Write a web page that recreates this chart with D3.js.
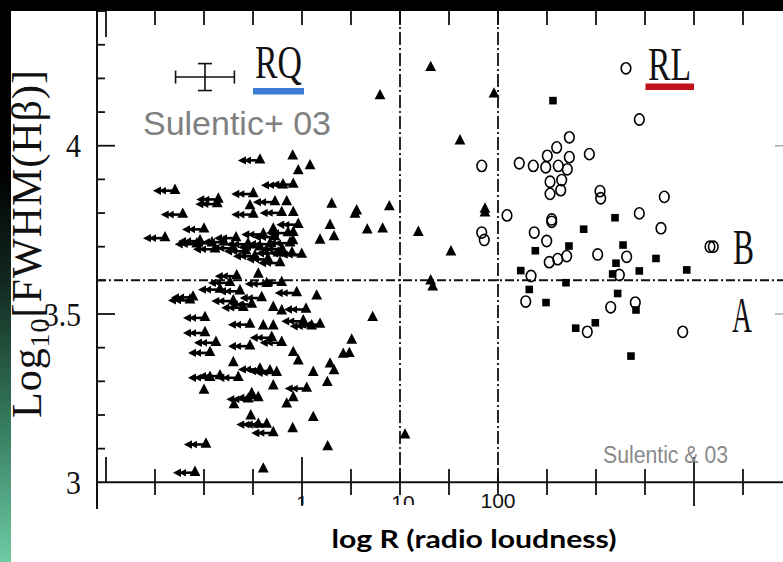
<!DOCTYPE html>
<html>
<head>
<meta charset="utf-8">
<script src="https://cdn.jsdelivr.net/npm/d3@7"></script>
<style>
  html, body { margin: 0; padding: 0; background: #fff; }
  svg { display: block; }
</style>
</head>
<body>
<svg id="chart" width="783" height="562"></svg>
<script>
// log10 R (radio loudness) vs log10 FWHM(Hbeta), Sulentic et al. 2003

// Radio-quiet sources with upper limits on R: [log R, log FWHM]
const rqUpperLimits = [
  [-0.429, 3.960], [-1.296, 3.870], [-0.854, 3.844], [-0.864, 3.830], [-0.497, 3.860],
  [-0.194, 3.886], [-0.089, 3.888], [-0.276, 3.836], [-1.217, 3.799], [-0.497, 3.799],
  [-0.207, 3.804], [-0.038, 3.769], [-1.000, 3.755], [-1.398, 3.729], [-1.074, 3.711],
  [-1.041, 3.720], [-0.918, 3.714], [-0.796, 3.717], [-0.673, 3.729], [-0.551, 3.711],
  [-0.429, 3.702], [-0.327, 3.711], [-0.204, 3.696], [-0.102, 3.684], [-0.003, 3.680],
  [-0.395, 3.740], [-0.276, 3.732], [-0.143, 3.744], [-0.480, 3.675], [-0.347, 3.666],
  [-0.224, 3.655], [-0.571, 3.690], [-0.701, 3.699], [-0.122, 3.714], [-0.245, 3.684],
  [-0.888, 3.696],
  [-0.666, 3.616], [-0.735, 3.596], [-0.837, 3.576], [-0.360, 3.593], [-0.207, 3.596],
  [-0.054, 3.566], [-1.143, 3.544], [-1.112, 3.553], [-0.633, 3.571], [-0.411, 3.551],
  [-0.701, 3.542], [-0.599, 3.522], [-0.513, 3.532], [0.041, 3.517], [-0.990, 3.492],
  [-0.531, 3.472], [0.013, 3.482], [0.099, 3.467], [0.184, 3.472], [-0.990, 3.447],
  [-0.878, 3.418], [-0.939, 3.388], [-0.531, 3.408], [-0.309, 3.433], [-0.207, 3.418],
  [-0.429, 3.339], [-0.327, 3.334], [-0.258, 3.329], [-0.939, 3.314], [-0.837, 3.319],
  [-0.650, 3.314], [0.048, 3.282], [-0.446, 3.254], [-0.548, 3.250], [-0.360, 3.175],
  [-0.293, 3.150], [-0.446, 3.175], [-0.980, 3.116], [-1.092, 3.032]
];

// Radio-quiet / intermediate sources with measured R
const rqDetected = [
  [-0.095, 3.972], [0.082, 3.943], [-0.038, 3.928], [-0.156, 3.836], [-0.531, 3.824],
  [-0.089, 3.804], [-0.293, 3.755], [-0.089, 3.745], [-0.092, 3.720], [0.303, 3.829],
  [0.558, 3.809], [0.541, 3.799], [0.891, 3.821], [0.286, 3.766], [0.666, 3.752],
  [0.823, 3.755], [0.327, 3.732], [0.184, 3.722], [1.187, 3.745], [1.520, 3.687],
  [1.313, 4.235], [0.796, 4.151], [1.959, 4.156], [1.612, 4.017], [1.867, 3.814],
  [1.867, 3.803], [1.313, 3.601], [1.334, 3.583], [-0.446, 3.621], [0.150, 3.556],
  [-0.395, 3.467], [-0.293, 3.467], [-0.293, 3.522], [-0.207, 3.512], [0.721, 3.492],
  [0.507, 3.425], [0.421, 3.383], [0.483, 3.385], [-0.089, 3.388], [-0.038, 3.363],
  [-0.701, 3.358], [0.115, 3.329], [0.286, 3.354], [0.327, 3.334], [0.258, 3.299],
  [-1.000, 3.276], [-0.293, 3.289], [-0.089, 3.254], [-0.156, 3.235], [-0.513, 3.266],
  [-0.694, 3.233], [-0.523, 3.200], [0.115, 3.195], [-0.095, 3.162], [0.262, 3.108],
  [-0.395, 3.042], [1.051, 3.143]
];

// Radio-loud, lobe-dominated sources (open circles)
const rlLobe = [
  [3.306, 4.230], [3.442, 4.078], [1.834, 3.940], [2.217, 3.948], [2.360, 3.940],
  [2.487, 3.936], [2.503, 3.970], [2.599, 3.995], [2.728, 4.025], [2.728, 3.966],
  [2.615, 3.940], [2.707, 3.930], [2.650, 3.898], [2.531, 3.893], [2.640, 3.868],
  [2.531, 3.857], [2.932, 3.975], [3.041, 3.865], [3.048, 3.844], [3.697, 3.848],
  [3.442, 3.799], [3.663, 3.755], [2.092, 3.793], [2.548, 3.781], [2.548, 3.774],
  [1.834, 3.742], [1.860, 3.720], [2.370, 3.742], [2.497, 3.717], [3.017, 3.677],
  [3.313, 3.670], [2.701, 3.672], [2.609, 3.663], [2.523, 3.654], [4.163, 3.700],
  [4.197, 3.700], [2.337, 3.613], [3.238, 3.616], [2.283, 3.537], [3.150, 3.520],
  [3.401, 3.534], [2.911, 3.447], [3.885, 3.447]
];

// Radio-loud, core-dominated sources (filled squares)
const rlCore = [
  [2.561, 4.134], [3.194, 3.786], [2.874, 3.752], [2.724, 3.702], [3.276, 3.705],
  [2.381, 3.688], [3.612, 3.665], [3.204, 3.651], [2.232, 3.629], [3.442, 3.628],
  [3.926, 3.631], [3.170, 3.619], [2.694, 3.593], [2.319, 3.573], [3.221, 3.561],
  [2.490, 3.534], [3.408, 3.512], [2.993, 3.474], [2.793, 3.458], [3.357, 3.375]
];

// Typical error: [log R, log FWHM, half-width in log R, half-height in log FWHM]
const typicalError = [-0.99, 4.204, 0.30, 0.040];

// Axis ticks and labels
const xTickValues = d3.range(-2, 4.51, 0.5);
const xMajorTicks = [0, 4];
const xTickLabels = [[0, "1"], [1, "10"], [2, "100"]];
const yTickValues = d3.range(3.1, 4.41, 0.1).map(v => +v.toFixed(1));
const yMajorTicks = [3.5, 4.0];
const yTickLabels = [[4.0, "4"], [3.5, "3.5"], [3.0, "3"]];
const boundaryFWHM = 3.6;
const boundaryR = [1, 2];

(function draw() {
  const svg = d3.select("#chart");
  const W = 783, H = 562;

  const x = d3.scaleLinear().domain([-2, 4]).range([106, 694]);
  const y = d3.scaleLinear().domain([3, 4.4]).range([482.3, 11.1]);
  const pL = 97, pR = 783, pT = 11, pB = y(3);
  const ink = "#111";

  // Page frame: dark top band and left strip fading to green
  const defs = svg.append("defs");
  const grad = defs.append("linearGradient").attr("id", "strip")
    .attr("x1", 0).attr("y1", 0).attr("x2", 0).attr("y2", 1);
  [[0, "#000"], [0.3, "#000"], [0.5, "#12281f"], [0.75, "#347a5c"], [1, "#6ecba4"]]
    .forEach(([o, c]) => grad.append("stop").attr("offset", o).attr("stop-color", c));
  defs.append("clipPath").attr("id", "labelClip")
    .append("rect").attr("x", 0).attr("y", 0).attr("width", W).attr("height", 505);

  svg.append("rect").attr("width", W).attr("height", H).attr("fill", "#fff");
  svg.append("rect").attr("x", 0).attr("y", 0).attr("width", W).attr("height", 11).attr("fill", "#000");
  svg.append("rect").attr("x", 0).attr("y", 0).attr("width", 11).attr("height", H).attr("fill", "url(#strip)");

  // Axis lines
  svg.append("line").attr("x1", pL).attr("x2", pL).attr("y1", pT).attr("y2", 509)
    .attr("stroke", ink).attr("stroke-width", 2);
  svg.append("line").attr("x1", pL).attr("x2", pR).attr("y1", pB).attr("y2", pB)
    .attr("stroke", ink).attr("stroke-width", 2);

  // x ticks, bottom and top
  const xt = svg.append("g").attr("stroke", ink).attr("stroke-width", 1.8);
  xTickValues.forEach(v => {
    const px = x(v);
    let y1 = 469, y2 = 495;
    if (v === -2) { y1 = 457; y2 = pB; }
    else if (xMajorTicks.includes(v)) { y1 = 457; y2 = 506; }
    xt.append("line").attr("x1", px).attr("x2", px).attr("y1", y1).attr("y2", y2);
    xt.append("line").attr("x1", px).attr("x2", px).attr("y1", pT).attr("y2", v === -2 ? 37 : 25);
  });

  // y ticks, left and right
  const yt = svg.append("g").attr("stroke", ink).attr("stroke-width", 1.8);
  yTickValues.forEach(v => {
    const py = y(v);
    const len = yMajorTicks.includes(v) ? 18 : 8;
    yt.append("line").attr("x1", pL).attr("x2", pL + len).attr("y1", py).attr("y2", py);
  });
  yMajorTicks.forEach(v => {
    svg.append("line").attr("x1", pR - 8).attr("x2", pR).attr("y1", y(v)).attr("y2", y(v))
      .attr("stroke", "#aaa").attr("stroke-width", 1.5);
  });

  // Tick labels
  svg.append("g").selectAll("text").data(yTickLabels).join("text")
    .attr("x", 81).attr("y", d => y(d[0]) + 11.5)
    .attr("text-anchor", "end")
    .attr("font-family", "Liberation Serif, serif").attr("font-size", 34)
    .attr("textLength", d => d[1].length === 1 ? 15 : 37)
    .attr("lengthAdjust", "spacingAndGlyphs")
    .attr("fill", ink).text(d => d[1]);

  svg.append("g").selectAll("text").data(xTickLabels).join("text")
    .attr("x", d => x(d[0]) + (d[0] === 1 ? 3 : 0)).attr("y", d => d[0] === 2 ? 508 : 510)
    .attr("text-anchor", "middle")
    .attr("clip-path", d => d[0] === 2 ? null : "url(#labelClip)")
    .attr("font-family", "Liberation Sans, Arial, sans-serif").attr("font-size", 21)
    .attr("fill", ink).text(d => d[1]);

  // Population boundaries (dash-dot)
  svg.append("line").attr("x1", pL).attr("x2", pR)
    .attr("y1", y(boundaryFWHM)).attr("y2", y(boundaryFWHM))
    .attr("stroke", ink).attr("stroke-width", 2).attr("stroke-dasharray", "9,3,2,3");
  boundaryR.forEach(v => {
    svg.append("line").attr("x1", x(v)).attr("x2", x(v)).attr("y1", pT).attr("y2", pB)
      .attr("stroke", ink).attr("stroke-width", 1.8).attr("stroke-dasharray", "13,3,2,3");
  });

  // Marks
  const tri = "M0,-6 L5.4,4.4 L-5.4,4.4 Z";
  const marks = svg.append("g").attr("fill", "#000");

  const lim = marks.append("g").selectAll("g").data(rqUpperLimits).join("g")
    .attr("transform", d => `translate(${x(d[0])},${y(d[1])})`);
  lim.append("path").attr("d", tri);
  lim.append("path").attr("d", "M-3,1.2 L-16,1.2")
    .attr("stroke", "#000").attr("stroke-width", 2.6).attr("fill", "none");
  lim.append("path").attr("d", "M-22,1.2 L-14,-3 L-14,5.4 Z");
  lim.append("path").attr("d", "M-16,1.2 L-9,-2.6 L-9,5 Z");

  marks.append("g").selectAll("path").data(rqDetected).join("path")
    .attr("transform", d => `translate(${x(d[0])},${y(d[1])})`).attr("d", tri);

  marks.append("g").selectAll("rect").data(rlCore).join("rect")
    .attr("x", d => x(d[0]) - 3.8).attr("y", d => y(d[1]) - 3.8)
    .attr("width", 7.6).attr("height", 7.6);

  marks.append("g").selectAll("ellipse").data(rlLobe).join("ellipse")
    .attr("cx", d => x(d[0])).attr("cy", d => y(d[1]))
    .attr("rx", 4.8).attr("ry", 5.6)
    .attr("fill", "none").attr("stroke", "#000").attr("stroke-width", 1.6);

  // Typical error bar
  const [ex, ey, edx, edy] = typicalError;
  const eb = svg.append("g").attr("stroke", ink).attr("stroke-width", 1.6);
  eb.append("line").attr("x1", x(ex - edx)).attr("x2", x(ex + edx)).attr("y1", y(ey)).attr("y2", y(ey));
  eb.append("line").attr("x1", x(ex)).attr("x2", x(ex)).attr("y1", y(ey + edy)).attr("y2", y(ey - edy));
  [ex - edx, ex + edx].forEach(v => eb.append("line").attr("x1", x(v)).attr("x2", x(v))
    .attr("y1", y(ey) - 6.5).attr("y2", y(ey) + 6.5));
  [ey - edy, ey + edy].forEach(v => eb.append("line").attr("x1", x(ex) - 7).attr("x2", x(ex) + 7)
    .attr("y1", y(v)).attr("y2", y(v)));

  // Population labels
  const serif = "Liberation Serif, Times New Roman, serif";
  function condensed(txt, px, py, size, len) {
    return svg.append("text").attr("x", px).attr("y", py)
      .attr("font-family", serif).attr("font-size", size)
      .attr("textLength", len).attr("lengthAdjust", "spacingAndGlyphs")
      .attr("fill", ink).text(txt);
  }
  condensed("RQ", 255, 78, 46, 47);
  condensed("RL", 648, 80, 46, 43);
  condensed("B", 733, 264, 51, 21);
  condensed("A", 732, 332, 51, 20);
  svg.append("rect").attr("x", 253).attr("y", 88).attr("width", 51).attr("height", 6.5).attr("fill", "#3a7dd2");
  svg.append("rect").attr("x", 645.5).attr("y", 83.5).attr("width", 48.5).attr("height", 6.5).attr("fill", "#c0111d");

  // Source credits
  svg.append("text").attr("x", 143).attr("y", 135)
    .attr("font-family", "Liberation Sans, Arial, sans-serif").attr("font-size", 33)
    .attr("textLength", 188).attr("lengthAdjust", "spacingAndGlyphs")
    .attr("fill", "#808080").text("Sulentic+ 03");
  svg.append("text").attr("x", 603).attr("y", 463)
    .attr("font-family", "Liberation Sans, Arial, sans-serif").attr("font-size", 23)
    .attr("textLength", 125).attr("lengthAdjust", "spacingAndGlyphs")
    .attr("fill", "#8a8a8a").text("Sulentic & 03");

  // Axis titles
  const yTitle = svg.append("text")
    .attr("transform", "translate(41,418) rotate(-90)")
    .attr("font-family", serif).attr("font-size", 42).attr("fill", ink)
    .attr("textLength", 348).attr("lengthAdjust", "spacing");
  yTitle.append("tspan").text("Log");
  yTitle.append("tspan").attr("font-size", 28).attr("dy", 8).text("10");
  yTitle.append("tspan").attr("dy", -8).text("[FWHM(Hβ)]");

  svg.append("text").attr("x", 474).attr("y", 548).attr("text-anchor", "middle")
    .attr("font-family", "Lato, Open Sans, sans-serif").attr("font-weight", "bold")
    .attr("font-size", 24).attr("textLength", 285).attr("lengthAdjust", "spacingAndGlyphs")
    .attr("fill", "#000").text("log R (radio loudness)");
})();
</script>
</body>
</html>
